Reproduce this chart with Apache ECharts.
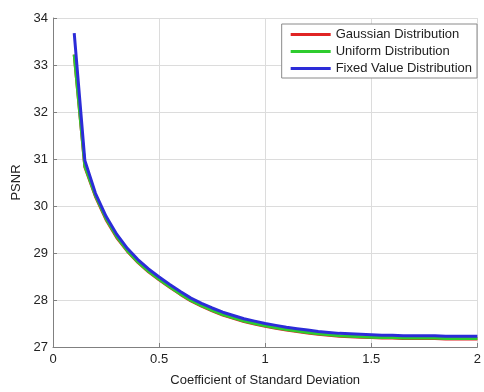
<!DOCTYPE html>
<html>
<head>
<meta charset="utf-8">
<script src="https://cdn.jsdelivr.net/npm/echarts@6/dist/echarts.min.js"></script>
<style>
html,body{margin:0;padding:0;background:#fff;overflow:hidden;}
#chart{width:484px;height:392px;}
</style>
</head>
<body>
<div id="chart"></div>
<script>
const xValues = [0.10,0.15,0.20,0.25,0.30,0.35,0.40,0.45,0.50,0.55,0.60,0.65,0.70,0.75,0.80,0.85,0.90,0.95,1.00,1.05,1.10,1.15,1.20,1.25,1.30,1.35,1.40,1.45,1.50,1.55,1.60,1.65,1.70,1.75,1.80,1.85,1.90,1.95,2.00];
const gaussian = [33.22,30.83,30.20,29.71,29.33,29.04,28.80,28.60,28.43,28.27,28.12,27.98,27.87,27.77,27.68,27.61,27.54,27.49,27.44,27.40,27.36,27.33,27.30,27.27,27.25,27.23,27.22,27.21,27.20,27.19,27.19,27.18,27.18,27.18,27.18,27.17,27.17,27.17,27.17];
const uniform = [33.22,30.85,30.22,29.73,29.35,29.05,28.81,28.61,28.44,28.28,28.13,27.99,27.88,27.78,27.69,27.62,27.55,27.50,27.45,27.41,27.37,27.34,27.31,27.28,27.26,27.24,27.23,27.22,27.21,27.20,27.20,27.19,27.19,27.19,27.19,27.18,27.18,27.18,27.18];
const fixedValue = [33.68,30.97,30.27,29.78,29.40,29.10,28.86,28.66,28.49,28.33,28.18,28.04,27.93,27.83,27.74,27.67,27.60,27.55,27.50,27.46,27.42,27.39,27.36,27.33,27.31,27.29,27.28,27.27,27.26,27.25,27.25,27.24,27.24,27.24,27.24,27.23,27.23,27.23,27.23];
const seriesNames = ['Gaussian Distribution','Uniform Distribution','Fixed Value Distribution'];
const seriesColors = ['#e02424','#2ecc2e','#2c2cd8'];
const xTicks = [0,0.5,1,1.5,2];
const yTicks = [27,28,29,30,31,32,33,34];

const allSeries = [gaussian, uniform, fixedValue];
const font = 'Liberation Sans, Arial, sans-serif';
const chart = echarts.init(document.getElementById('chart'), null, {renderer:'canvas'});
chart.setOption({
  animation:false,
  backgroundColor:'#ffffff',
  textStyle:{fontFamily:font},
  grid:{left:53,right:1,top:18,bottom:35,containLabel:false},
  legend:{
    data:seriesNames,
    orient:'vertical',
    right:7,top:24,
    backgroundColor:'#fff',
    borderColor:'#8a8a8a',borderWidth:1,borderRadius:0,
    padding:[3,5,2,9],
    itemGap:2,
    itemWidth:40,itemHeight:3,
    icon:'rect',
    textStyle:{fontSize:13,color:'#222',fontFamily:font,lineHeight:15}
  },
  xAxis:{
    type:'value',min:xTicks[0],max:xTicks[xTicks.length-1],interval:0.5,
    name:'Coefficient of Standard Deviation',nameLocation:'middle',nameGap:27,
    nameTextStyle:{fontSize:13,color:'#222',fontFamily:font},
    axisLine:{show:true,lineStyle:{color:'#808080',width:1}},
    axisTick:{show:true,inside:true,length:4,lineStyle:{color:'#808080'}},
    axisLabel:{fontSize:13,color:'#222',margin:6,fontFamily:font,
      formatter:function(v){return xTicks.indexOf(v)>=0?String(v):'';}},
    splitLine:{show:true,lineStyle:{color:'#dcdcdc',width:1}}
  },
  yAxis:{
    type:'value',min:yTicks[0],max:yTicks[yTicks.length-1],interval:1,
    name:'PSNR',nameLocation:'middle',nameGap:25,nameRotate:90,
    nameTextStyle:{fontSize:13,color:'#222',fontFamily:font},
    axisLine:{show:true,lineStyle:{color:'#808080',width:1}},
    axisTick:{show:true,inside:true,length:4,lineStyle:{color:'#808080'}},
    axisLabel:{fontSize:13,color:'#222',margin:5,fontFamily:font},
    splitLine:{show:true,lineStyle:{color:'#dcdcdc',width:1}}
  },
  series: allSeries.map(function(vals,i){
    return {
      name:seriesNames[i],type:'line',
      data:xValues.map(function(x,j){return [x,vals[j]];}),
      showSymbol:false,symbol:'none',smooth:false,
      lineStyle:{color:seriesColors[i],width:3},
      itemStyle:{color:seriesColors[i]},
      z:2+i
    };
  })
});
</script>
</body>
</html>
